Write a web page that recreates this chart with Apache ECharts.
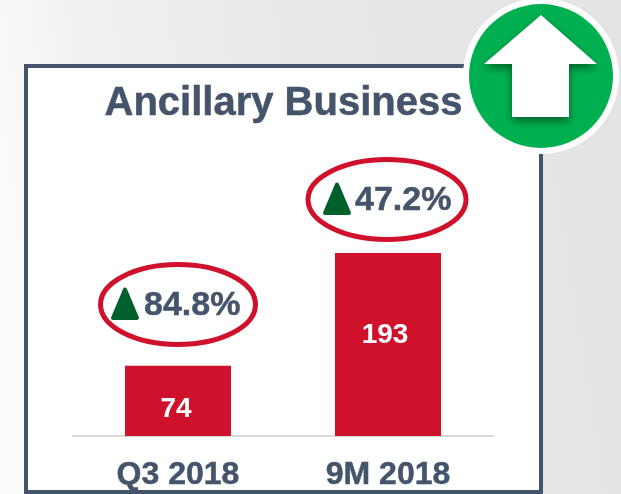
<!DOCTYPE html>
<html><head><meta charset="utf-8">
<style>html,body{margin:0;padding:0;background:#fff}#c{width:621px;height:494px}</style>
<script src="https://cdn.jsdelivr.net/npm/echarts@6/dist/echarts.min.js"></script>
</head><body><div id="c"></div>
<script>
const categories = ['Q3 2018', '9M 2018'];
const values = [74, 193];
const growth = ['84.8%', '47.2%'];
const title = 'Ancillary Business';
const slate = '#44546a', red = '#d0112b', dark = '#00602b', green = '#00b050';
const font = '"Liberation Sans", Arial, sans-serif';

const labelOffsets = [[-2, 8], [-3, -9]];
const badges = [{cx: 178, cy: 304.5, rx: 77.5, tri: -53, txt: -34}, {cx: 387, cy: 199.5, rx: 79, tri: -50, txt: -32}];

const chart = echarts.init(document.getElementById('c'), null, {renderer: 'canvas'});
const graphic = [
  {type: 'rect', z: -10, shape: {x: 0, y: 0, width: 621, height: 494},
   style: {fill: new echarts.graphic.LinearGradient(0, 0.4, 1, 0.2, [
     {offset: 0, color: '#fcfcfc'}, {offset: 0.16, color: '#f1f1f1'}, {offset: 0.5, color: '#e9e9e9'}, {offset: 1, color: '#e3e3e3'}])}},
  {type: 'rect', z: -9, shape: {x: 26, y: 66, width: 515, height: 426},
   style: {fill: '#fff', stroke: slate, lineWidth: 4}},
  {type: 'text', z: 5, style: {x: 283.5, y: 104, text: title, fill: slate, stroke: slate, lineWidth: 0.5, font: 'bold 40px ' + font, textAlign: 'center', textVerticalAlign: 'middle'}},
  {type: 'circle', z: 6, shape: {cx: 541, cy: 76, r: 78}, style: {fill: '#fff'}},
  {type: 'circle', z: 7, shape: {cx: 541, cy: 76, r: 72}, style: {fill: green}},
  {type: 'polygon', z: 8, shape: {points: [[541,15],[597,64],[569,64],[569,117],[512,117],[512,64],[484,64]]},
   style: {fill: '#fff', shadowBlur: 8, shadowColor: 'rgba(0,70,30,0.75)', shadowOffsetY: 4}}
];
badges.forEach((b, i) => {
  graphic.push({type: 'ellipse', z: 5, shape: {cx: b.cx, cy: b.cy, rx: b.rx, ry: 40},
    style: {fill: 'none', stroke: red, lineWidth: 5}});
  graphic.push({type: 'polygon', z: 5, shape: {points: [[b.cx + b.tri, b.cy - 15], [b.cx + b.tri + 12, b.cy + 13.5], [b.cx + b.tri - 12, b.cy + 13.5]]},
    style: {fill: dark, stroke: dark, lineWidth: 4, lineJoin: 'round'}});
  graphic.push({type: 'text', z: 5, style: {x: b.cx + b.txt, y: b.cy + 1, text: growth[i], fill: slate, stroke: slate, lineWidth: 0.5, font: 'bold 34px ' + font, textAlign: 'left', textVerticalAlign: 'middle'}});
});

chart.setOption({
  animation: false,
  backgroundColor: 'transparent',
  grid: {left: 73, right: 128, top: 199, bottom: 58},
  xAxis: {
    type: 'category', data: categories,
    axisTick: {show: false},
    axisLine: {lineStyle: {color: '#d9d9d9', width: 2}},
    axisLabel: {color: slate, fontFamily: font, fontWeight: 'bold', fontSize: 32, margin: 23, textBorderColor: slate, textBorderWidth: 0.5}
  },
  yAxis: {type: 'value', min: 0, max: 250, show: false, splitLine: {show: false}},
  graphic: graphic,
  series: [{
    type: 'bar', barWidth: '50.5%', z: 3,
    itemStyle: {color: red},
    data: values.map((v, i) => ({value: v, label: {offset: labelOffsets[i]}})),
    label: {show: true, position: 'inside', color: '#fff', fontFamily: font, fontWeight: 'bold', fontSize: 28}
  }]
});
</script></body></html>
